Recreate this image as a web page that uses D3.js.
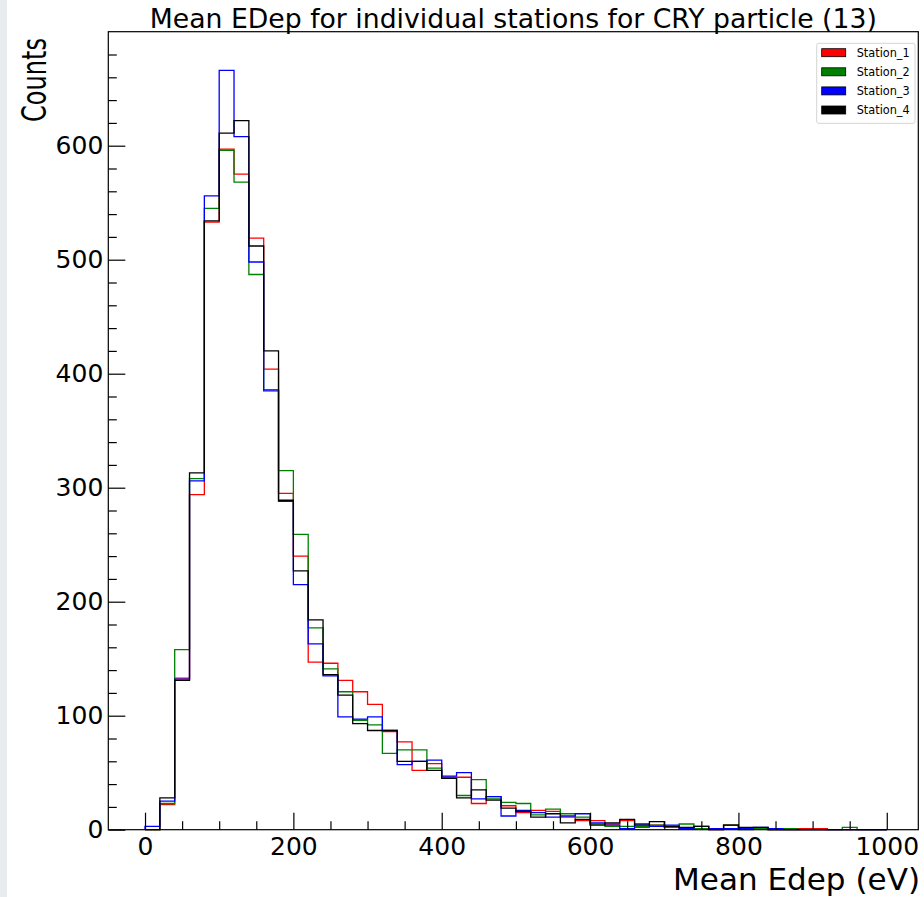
<!DOCTYPE html>
<html>
<head>
<meta charset="utf-8">
<script src="https://cdn.jsdelivr.net/npm/d3@7"></script>
<style>
  body { margin: 0; background: #fff; }
  svg { display: block; font-family: "DejaVu Sans", sans-serif; }
</style>
</head>
<body>
<div id="chart"></div>
<script>
// bin lower edges (eV), width 20
var binEdges = d3.range(0, 1001, 20);
var seriesNames = ['Station_1', 'Station_2', 'Station_3', 'Station_4'];
var seriesColors = ['#ff0000', '#008000', '#0000ff', '#000000'];

var station1 = [0, 22, 133, 294, 533, 597, 575, 519, 404, 295,
  240, 147, 146, 131, 121, 110, 86, 77, 52, 58,
  46, 46, 23, 29, 21, 15, 17, 16, 11, 8,
  8, 5, 8, 2, 4, 2, 1, 1, 0, 4,
  1, 1, 0, 0, 1, 1, 0, 0, 0, 0];
var station2 = [0, 23, 158, 308, 545, 596, 568, 487, 386, 315,
  259, 177, 141, 121, 96, 92, 67, 70, 70, 54,
  45, 30, 44, 27, 24, 23, 13, 18, 14, 11,
  5, 3, 3, 3, 4, 2, 5, 1, 1, 4,
  0, 1, 0, 1, 0, 0, 0, 2, 0, 0];
var station3 = [3, 25, 132, 306, 556, 666, 608, 498, 385, 288,
  215, 163, 135, 99, 97, 99, 87, 57, 60, 61,
  47, 50, 27, 29, 12, 17, 15, 11, 12, 14,
  6, 4, 1, 5, 3, 4, 1, 3, 1, 1,
  1, 2, 1, 0, 0, 0, 0, 0, 0, 0];
var station4 = [0, 28, 131, 313, 534, 611, 622, 512, 420, 289,
  227, 184, 136, 118, 93, 87, 87, 60, 60, 52,
  45, 28, 35, 26, 19, 16, 11, 14, 6, 9,
  4, 6, 9, 4, 7, 3, 2, 3, 0, 4,
  2, 2, 0, 0, 0, 0, 0, 0, 0, 0];
var seriesValues = [station1, station2, station3, station4];

var xMajorTicks = [0, 200, 400, 600, 800, 1000];
var yMajorTicks = [0, 100, 200, 300, 400, 500, 600];

var W = 924, H = 897;
var plot = {left: 108.3, right: 918.3, top: 31.7, bottom: 829.7};

var svg = d3.select('#chart').append('svg')
  .attr('width', W).attr('height', H);

// grey strip on the left edge
svg.append('rect').attr('x', 0).attr('y', 0).attr('width', 7).attr('height', H)
  .attr('fill', '#e8ecee');

var x = d3.scaleLinear().domain([-49.5, 1042.5]).range([plot.left, plot.right]);
var y = d3.scaleLinear().domain([0, 700]).range([plot.bottom, plot.top]);

var xMinor = d3.range(-50, 1051, 50).filter(function(v) {
  return v % 200 !== 0 && v > x.domain()[0] && v < x.domain()[1];
});
var yMinor = d3.range(0, 700, 20).filter(function(v) { return v % 100 !== 0; });

// step histograms
var line = d3.line()
  .x(function(d) { return x(d[0]); })
  .y(function(d) { return y(d[1]); })
  .curve(d3.curveStepAfter);

var histG = svg.append('g');
seriesValues.forEach(function(vals, s) {
  var pts = [[binEdges[0], 0]];
  vals.forEach(function(v, i) { pts.push([binEdges[i], v]); });
  pts.push([binEdges[vals.length], vals[vals.length - 1]]);
  pts.push([binEdges[vals.length], 0]);
  histG.append('path')
    .attr('d', line(pts))
    .attr('fill', 'none')
    .attr('stroke', seriesColors[s])
    .attr('stroke-width', 1.3);
});

// axes
var fmt = d3.format('d');
var xAxis = d3.axisBottom(x).tickValues(xMajorTicks).tickFormat(fmt).tickSizeInner(-17).tickSizeOuter(0).tickPadding(8);
var xAxisMinor = d3.axisBottom(x).tickValues(xMinor).tickSizeInner(-8.5).tickSizeOuter(0).tickFormat('');
var yAxis = d3.axisLeft(y).tickValues(yMajorTicks).tickFormat(fmt).tickSizeInner(-17).tickSizeOuter(0).tickPadding(5);
var yAxisMinor = d3.axisLeft(y).tickValues(yMinor).tickSizeInner(-8.5).tickSizeOuter(0).tickFormat('');

function styleAxis(g) {
  g.select('.domain').remove();
  g.selectAll('line').attr('stroke', '#000').attr('stroke-width', 1.2);
  g.selectAll('text').attr('font-size', 25).attr('fill', '#000')
    .attr('font-family', '"DejaVu Sans", sans-serif');
}

svg.append('g').attr('transform', 'translate(0,' + plot.bottom + ')').call(xAxis).call(styleAxis);
svg.append('g').attr('transform', 'translate(0,' + plot.bottom + ')').call(xAxisMinor).call(styleAxis);
svg.append('g').attr('transform', 'translate(' + plot.left + ',0)').call(yAxis).call(styleAxis);
svg.append('g').attr('transform', 'translate(' + plot.left + ',0)').call(yAxisMinor).call(styleAxis);

// frame
svg.append('rect')
  .attr('x', plot.left).attr('y', plot.top)
  .attr('width', plot.right - plot.left).attr('height', plot.bottom - plot.top)
  .attr('fill', 'none').attr('stroke', '#000').attr('stroke-width', 1.2);

// title and labels
svg.append('text')
  .attr('x', (plot.left + plot.right) / 2).attr('y', 27.5)
  .attr('text-anchor', 'middle').attr('font-size', 26.7)
  .text('Mean EDep for individual stations for CRY particle (13)');

svg.append('text')
  .attr('x', 920).attr('y', 890)
  .attr('text-anchor', 'end').attr('font-size', 30)
  .attr('textLength', 247).attr('lengthAdjust', 'spacingAndGlyphs')
  .text('Mean Edep (eV)');

svg.append('text')
  .attr('transform', 'translate(46,38) rotate(-90)')
  .attr('text-anchor', 'end').attr('font-size', 34)
  .attr('textLength', 84).attr('lengthAdjust', 'spacingAndGlyphs')
  .text('Counts');

// legend
var legend = svg.append('g').attr('transform', 'translate(816.7,43.3)');
legend.append('rect')
  .attr('width', 98.3).attr('height', 80).attr('rx', 2)
  .attr('fill', '#fff').attr('fill-opacity', 0.8)
  .attr('stroke', '#d4d4d4').attr('stroke-width', 1);
seriesNames.forEach(function(name, i) {
  var cy = 9.4 + i * 19.1;
  legend.append('rect')
    .attr('x', 5).attr('y', cy - 4).attr('width', 24).attr('height', 8)
    .attr('fill', seriesColors[i]).attr('stroke', '#000').attr('stroke-width', 0.8);
  legend.append('text')
    .attr('x', 40).attr('y', cy).attr('dy', '0.35em')
    .attr('font-size', 12.5)
    .attr('textLength', 53).attr('lengthAdjust', 'spacingAndGlyphs')
    .text(name);
});
</script>
</body>
</html>
